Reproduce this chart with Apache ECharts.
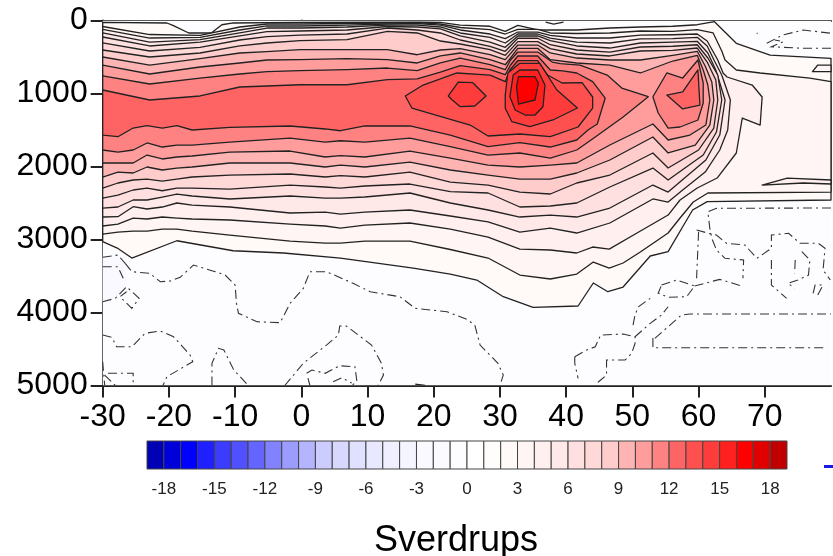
<!DOCTYPE html>
<html>
<head>
<meta charset="utf-8">
<style>html,body{margin:0;padding:0;background:#fff}#c{width:833px;height:556px}</style>
<script src="https://cdn.jsdelivr.net/npm/echarts@6/dist/echarts.min.js"></script>
</head>
<body>
<div id="c"></div>
<script>
// Axis ticks
const latTicks = [-30,-20,-10,0,10,20,30,40,50,60,70];
const depthTicks = [0,1000,2000,3000,4000,5000];
const colorbarTicks = [-18,-15,-12,-9,-6,-3,0,3,6,9,12,15,18];
const colorbarEdges = [-19,-18,-17,-16,-15,-14,-13,-12,-11,-10,-9,-8,-7,-6,-5,-4,-3,-2,-1,0,1,2,3,4,5,6,7,8,9,10,11,12,13,14,15,16,17,18,19];
const colorbarColors = ['#0000b4','#0000d8','#0000ff','#2020ff','#3c3cff','#5050ff','#6464ff','#8282ff','#9c9cff','#b4b4ff','#ccccff','#d8d8ff','#e0e0ff','#e8e8ff','#efefff','#f5f5ff','#f9f9ff','#fbfbff','#fdfdff','#ffffff','#fffcfc','#fff9f8','#fff5f4','#ffefef','#ffe8e8','#ffe0e0','#ffd8d8','#ffcccc','#ffb4b4','#ff9c9c','#ff8282','#ff6464','#ff5050','#ff3c3c','#ff2020','#ff0000','#e00000','#c00000'];
const levelColors = {2:'#fff9f8',3:'#fff5f4',4:'#ffefef',5:'#ffe8e8',6:'#ffe0e0',7:'#ffd8d8',8:'#ffcccc',9:'#ffb4b4',10:'#ff9c9c',11:'#ff8282',12:'#ff6464',13:'#ff5050',14:'#ff3c3c',15:'#ff2020',16:'#ff0000'};

// Contours: latitude columns shared by the upper and lower edges, depths in metres
const upperLats = [-30,-22.9,-15.3,-9.3,-5.2,-0.2,6.9,13,17.5,21,24,28.5,30.8,32.7,35.7,37.6,41.6,46.6,51.2,56.1,59.8];
const lowerLats = [-30,-27.7,-25.4,-23.3,-21,-18.8,-16.5,-10.8,-1.7,3.6,5.9,9.6,16.4,22.5,28.2,33,37.6,41.6,46.6,53.1,55.4];

const top3 = [82,192,203,89,48,48,41,34,30,48,96,126,185,121,121,171,178,171,144,148,126];
const top4 = [123,240,230,130,75,75,62,48,41,62,130,185,249,158,158,203,240,240,199,195,185];
const top5 = [171,295,263,171,103,103,89,62,62,89,171,230,308,185,185,240,295,308,253,249,230];
const top6 = [226,349,295,212,153,144,130,82,89,116,212,295,367,212,212,277,349,377,308,295,285];
const top7 = [308,418,367,267,222,199,185,103,130,171,267,353,422,243,243,332,404,432,363,353,332];
const top8 = [404,500,445,349,308,277,263,148,171,281,322,400,477,290,290,386,459,486,418,408,377];
const top9 = [500,610,523,445,427,400,400,400,469,404,384,469,537,336,336,445,514,541,541,477,422];
const top10 = [610,733,637,582,541,537,523,537,582,486,445,537,606,381,381,537,582,610,719,555,477];

const bottom3 = [2925,2898,2884,2884,2857,2857,2884,2939,3021,3049,3049,3021,3021,3137,3254,3487,3541,3473];
const bottom4 = [2815,2788,2706,2719,2692,2706,2719,2733,2788,2815,2843,2802,2774,2857,2966,3131,3144,3185];
const bottom5 = [2692,2688,2551,2582,2555,2500,2528,2555,2637,2624,2651,2624,2596,2678,2760,2898,2843,2911,2774,2445,2487];
const bottom6 = [2569,2555,2459,2459,2418,2377,2404,2445,2404,2432,2432,2418,2363,2500,2596,2692,2665,2692,2569,2254,2350];
const bottom7 = [2432,2391,2322,2295,2332,2295,2295,2309,2254,2281,2295,2267,2240,2345,2363,2555,2541,2500,2281,2021,2185];
const bottom8 = [2295,2226,2185,2172,2199,2172,2144,2117,2103,2144,2126,2144,2076,2213,2254,2350,2377,2226,2117,1815,2021];
const bottom9 = [2144,2076,2089,2007,2048,2021,2007,1952,1952,2007,1980,2007,1939,2048,2117,2172,2172,2089,1911,1596,1815];
const bottom10 = [1952,1952,1952,1843,1897,1870,1856,1802,1788,1870,1852,1870,1788,1884,1980,2007,1980,1952,1706,1418,1637];

const cap3 = [[62.2,171],[63.5,418],[64,541],[65.7,678],[69.3,719],[76.8,788],[80,838],[80,2350],[61.4,2363],[59.2,2486],[57.2,2706],[55.4,2911],[51.2,3172],[48.6,3322],[46.5,3391],[44.1,3309]];
const cap4 = [[61.3,281],[62.9,541],[63.7,719],[64.3,774],[68.1,884],[69.6,1048],[69.3,1432],[66.6,1336],[65.7,1815],[62.8,2158],[59.8,2295],[57.2,2459],[55.4,2665],[50.7,2911],[46.5,3131],[44,3103]];
const cap5 = [[61.3,349],[62.4,555],[63.5,747],[64.8,1089],[64.4,1500],[63.2,1774],[61,2076],[57.6,2322]];
const cap6 = [[61.4,445],[62.6,678],[64,1089],[63.2,1569],[61.1,1911]];
const cap7 = [[61.4,514],[62.9,747],[63.5,1089],[62.7,1528],[60.7,1843]];
const cap8 = [[61.3,569],[62.6,815],[62.9,1089],[62.3,1473],[60,1774]];
const cap9 = [[61,623],[62,843],[62.3,1089],[61.7,1432],[59.5,1706]];
const cap10 = [[60.7,678],[61.4,884],[61.7,1089],[61.1,1432],[58.7,1569]];

const contour2 = [[-30,27],[-20.3,34],[-19.4,66],[-17,171],[-13.6,171],[-12,58],[-10.3,34],[-0.2,27],[17.5,21],[21,27],[24,62],[28.5,79],[30.8,148],[32.7,66],[35.7,130],[37.6,130],[41.6,130],[46.6,103],[51.2,89],[56.1,79],[59.8,58],[62.4,16],[65.7,312],[70.8,473],[80,518],[80,2459],[61.3,2482],[59.1,2596],[57.6,2825],[55.4,3167],[52.7,3226],[48.6,3651],[46.3,3715],[44.1,3596],[41.8,3911],[35,3929],[30.5,3784],[26.5,3555],[22.5,3473],[16.9,3391],[5.9,3254],[-2.7,3185],[-10.3,3154],[-18.8,3017],[-25.6,3254],[-27.8,3117],[-30,3030]];
const contour3b = [[77.2,701],[78,610],[80,610],[80,701]];
const contour4b = [[80,2185],[73.4,2158],[69.6,2254],[75.8,2226],[80,2240]];
const contour11 = [[-30,760],[-22.9,870],[-15.3,788],[-9.3,733],[-5.2,701],[-0.2,688],[6.9,674],[13,651],[17.5,688],[21,582],[24,514],[28.5,606],[30.8,674],[31.6,541],[32.7,432],[35.7,432],[37.9,569],[39.1,590],[42.1,610],[46.2,747],[48.4,925],[52.4,1044],[48.6,1322],[44.4,1596],[41.6,1774],[37.6,1884],[33,1815],[28.2,1843],[22.5,1729],[16.4,1610],[9.6,1665],[5.9,1647],[3.6,1665],[-1.7,1610],[-10.8,1665],[-16.5,1706],[-18.8,1706],[-21,1733],[-23.3,1678],[-25.4,1774],[-27.7,1802],[-30,1774]];
const contour11b = [[53.1,1044],[55.2,719],[57.6,788],[59.9,541],[60.7,856],[60.7,1130],[59.9,1363],[57.2,1459],[55.4,1473],[53.9,1267]];
const contour12 = [[-30,952],[-22.9,1089],[-15.3,1034],[-9.3,911],[-5.2,897],[-0.2,880],[6.9,880],[13,811],[17.5,801],[21,706],[24,617],[28.5,674],[30.8,743],[31.6,610],[32.7,486],[35.7,486],[37.6,678],[39.5,690],[41.6,719],[44,838],[45.9,1062],[44.7,1418],[43.3,1500],[41.6,1637],[37.6,1733],[33,1674],[28.2,1729],[22.5,1569],[16.4,1445],[9.6,1445],[5.9,1510],[3.6,1486],[-1.7,1445],[-10.8,1463],[-16.5,1500],[-18.8,1441],[-21,1473],[-23.3,1441],[-25.4,1473],[-27.7,1592],[-30,1569]];
const contour12b = [[55.2,1021],[57.6,979],[59.9,678],[60.2,1158],[57.6,1212]];
const contour13 = [[15.7,1034],[18.4,884],[23.5,719],[28.5,747],[30.8,838],[31.5,678],[32.7,551],[35.7,551],[37.2,747],[39.4,856],[42.4,852],[44,1048],[44,1199],[41.8,1459],[37.6,1592],[33,1555],[28.2,1582],[25.5,1432],[16.7,1199]];
const contour14 = [[30.8,1203],[30.8,1021],[31.2,719],[33,586],[36,586],[38.6,952],[41.7,1199],[38,1363],[34.5,1455],[31.8,1386]];
const contour14b = [[22.2,1034],[23.7,843],[25.9,852],[27.9,1034],[26.2,1171],[24,1181],[22.8,1089]];
const contour15 = [[33,678],[35.7,678],[36.8,884],[36.5,1181],[35.3,1295],[33.8,1295],[32.3,1226],[31.5,1044],[32,747]];
const contour16 = [[32.8,770],[35.3,770],[35.8,860],[35.3,1089],[32.8,1144],[32.5,907]];

// Negative (dashed) contours
const dashed = [
 [[-26.6,3326],[-25.6,3441],[-22.9,3463],[-21.3,3578],[-19.8,3569],[-18.3,3518],[-16.3,3350],[-13,3441],[-11.5,3487],[-10,3624],[-9.8,3870],[-9.5,4011],[-6.7,4127],[-3.2,4140],[-1.7,3874],[0.3,3669],[1.3,3441],[3.8,3441],[7.8,3600],[10.4,3715],[14.9,3784],[17.2,3943],[22,3989],[25,4094],[26.2,4171],[27,4446],[29.7,4696],[30.5,4857],[30,5000]],
 [[-30,3852],[-28.1,3806],[-26.4,3647],[-24.5,3806],[-25.6,3943],[-27.4,3784],[-26.4,3715]],
 [[-30,3244],[-27.7,3213],[-26.6,3326]],
 [[-30,3373],[-27.7,3373],[-26.9,3532]],
 [[-30,4309],[-28.6,4340],[-27.9,4469],[-25.6,4469],[-23.6,4285],[-21.3,4254],[-19.3,4332],[-16.8,4583],[-16.4,4674],[-20.3,4880],[-20.9,5000]],
 [[-13.5,5000],[-13.5,4696],[-12.5,4491],[-11.7,4514],[-10.2,4788],[-8,5000]],
 [[-2.5,5000],[0.3,4696],[3.8,4446],[5.6,4309],[5.8,4185],[6.8,4185],[10.6,4446],[12.1,4696],[12.4,4857],[11.6,5000]],
 [[0.8,4833],[1.6,4788],[3.6,4833],[5.8,4729],[8.1,4743],[8.4,4948],[7.6,5000]],
 [[1,4898],[1.3,5000]],
 [[4.8,4948],[6.1,4894],[7.6,4966]],
 [[-30,4674],[-29.7,5000]],
 [[-29.2,4833],[-25.4,4833],[-25.4,5000]],
 [[-29.7,4857],[-28.1,5000]],
 [[41.3,4606],[43.1,4514],[44.4,4469],[45.2,4309],[48.6,4295],[50.4,4332],[50.4,4422],[49.9,4559],[48.9,4651],[46.1,4651],[46.1,4857],[44.9,4948],[44.4,5000]],
 [[41.3,4606],[41.3,4696],[41.8,4902]],
 [[50.4,4332],[52.7,4148],[54.4,4035],[55.4,3921]],
 [[50.1,4172],[50.4,4035],[50.9,3921],[52.7,3806]],
 [[54.4,3624],[56.7,3555],[59.4,3637],[58.2,3784],[55.4,3792],[53.9,3737],[54.4,3624]],
 [[59.4,3637],[63.2,3546],[66.5,3637]],
 [[53.4,4354],[57.4,4035],[58.7,4021],[80,4021]],
 [[53.1,4350],[53.1,4483],[79.2,4483]],
 [[80,2568],[62.7,2573],[61.4,2619],[61.7,2847],[62,2984],[62.7,3144],[64,3258],[66.8,3281],[66.7,3532]],
 [[59.7,2870],[61.5,2915],[62.7,2939],[64.2,3052],[67,3076],[68.8,3258],[71,3121],[71,2939],[73.6,2915],[75.3,3052],[78.1,3052],[79.1,3121],[78.8,3418],[79.9,3555]],
 [[60,2893],[59.7,3532]],
 [[71,3281],[71,3624],[73.3,3806]],
 [[75.6,3167],[76.8,3281],[76.6,3487],[75,3555],[73.5,3600],[74.5,3669]],
 [[74.6,3281],[74.5,3463]],
 [[77.3,3737],[77.6,3624],[78.8,3624],[78,3761]],
 [[70.3,312],[72.7,199],[75.8,130],[80,175]],
 [[80,381],[75.8,381],[71,359],[72.8,290],[71.5,267]],
 [[68.8,171],[68.9,180]]
];
const shortSolid = [[[17.2,4980],[18.7,5000]],[[36.9,21],[38.1,50],[39.6,21]]];
const plotBounds = [[-30,0],[80,0],[80,5000],[-30,5000]];
const coldPatch = [[-30,3244],[-27.7,3213],[-26.6,3326],[-26.4,3647],[-28.1,3806],[-30,3852]];

function band(level, top, cap, bottom) {
  const pts = top.map((d, i) => [upperLats[i], d]).concat(cap);
  const low = bottom.map((d, i) => [lowerLats[i], d]).reverse();
  return {level, pts: pts.concat(low)};
}
const filled = [
  {fill:'#fdfdff', stroke:'none', pts:plotBounds},
  {fill:'#f9f9ff', stroke:'none', pts:coldPatch},
  {level:2, pts:contour2},
  band(3, top3, cap3, bottom3),
  {level:3, pts:contour3b},
  band(4, top4, cap4, bottom4),
  {level:4, pts:contour4b},
  band(5, top5, cap5, bottom5),
  band(6, top6, cap6, bottom6),
  band(7, top7, cap7, bottom7),
  band(8, top8, cap8, bottom8),
  band(9, top9, cap9, bottom9),
  band(10, top10, cap10, bottom10),
  {level:11, pts:contour11},
  {level:11, pts:contour11b},
  {level:12, pts:contour12},
  {level:12, pts:contour12b},
  {level:13, pts:contour13},
  {level:14, pts:contour14},
  {level:14, pts:contour14b},
  {level:15, pts:contour15},
  {level:16, pts:contour16}
];

const LINE = '#222';
const FONT = '"Liberation Sans", Arial, sans-serif';
const frame = {show:true, lineStyle:{color:'#222', width:2}};

const chart = echarts.init(document.getElementById('c'), null, {renderer:'canvas'});
chart.setOption({
  animation:false,
  backgroundColor:'#fff',
  title:{text:'Sverdrups', left:369, top:518, textStyle:{fontFamily:FONT, fontWeight:'normal', fontSize:36, color:'#000'}},
  graphic:[{type:'rect', shape:{x:824, y:465, width:9, height:3}, style:{fill:'#1a1ae6'}}],
  grid:[
    {left:102.7, top:20.5, width:728.3, height:365},
    {left:147, top:441, width:640, height:28}
  ],
  xAxis:[
    {type:'value', gridIndex:0, min:-30, max:80, interval:10, splitLine:{show:false}, axisLine:Object.assign({onZero:false},frame),
     axisTick:{length:12, lineStyle:{color:'#222', width:2}, customValues:latTicks}, axisLabel:{margin:16, fontFamily:FONT, fontSize:32, color:'#000', customValues:latTicks, formatter:v=>String(v)}},
    {type:'value', gridIndex:0, position:'top', min:-30, max:80, interval:10, splitLine:{show:false}, axisLine:frame, axisTick:{show:false}, axisLabel:{show:false}},
    {type:'value', gridIndex:1, min:-19, max:19, splitLine:{show:false}, axisLine:{show:false}, axisTick:{show:false},
     axisLabel:{margin:12, fontFamily:FONT, fontSize:17, color:'#222', customValues:colorbarTicks, formatter:v=>String(v)}}
  ],
  yAxis:[
    {type:'value', gridIndex:0, inverse:true, min:0, max:5000, interval:1000, splitLine:{show:false}, axisLine:Object.assign({onZero:false},frame),
     axisTick:{length:12, lineStyle:{color:'#222', width:2}}, axisLabel:{margin:15, fontFamily:FONT, fontSize:32, color:'#000', customValues:depthTicks, formatter:v=>String(v)}},
    {type:'value', gridIndex:0, position:'right', inverse:true, min:0, max:5000, interval:1000, splitLine:{show:false}, axisLine:frame, axisTick:{show:false}, axisLabel:{show:false}},
    {type:'value', gridIndex:1, min:0, max:1, show:false}
  ],
  series:[
    {type:'custom', xAxisIndex:0, yAxisIndex:0, clip:true, silent:true, z:2,
     data:filled.map((f,i)=>[i]),
     renderItem:(p,api)=>{
       const f = filled[p.dataIndex];
       return {type:'polygon', shape:{points:f.pts.map(q=>api.coord(q))},
         style:{fill:f.fill||levelColors[f.level], stroke:f.stroke==='none'?null:LINE, lineWidth:1.3, lineJoin:'round'}};
     }},
    {type:'custom', xAxisIndex:0, yAxisIndex:0, clip:true, silent:true, z:3,
     data:dashed.map((f,i)=>[i]),
     renderItem:(p,api)=>({type:'polyline', shape:{points:dashed[p.dataIndex].map(q=>api.coord(q))},
         style:{fill:null, stroke:'#333', lineWidth:1.1, lineDash:[9,4,2,4]}})},
    {type:'custom', xAxisIndex:0, yAxisIndex:0, clip:true, silent:true, z:3,
     data:shortSolid.map((f,i)=>[i]),
     renderItem:(p,api)=>({type:'polyline', shape:{points:shortSolid[p.dataIndex].map(q=>api.coord(q))},
         style:{fill:null, stroke:LINE, lineWidth:1.3}})},
    {type:'custom', xAxisIndex:2, yAxisIndex:2, silent:true, z:2,
     data:colorbarColors.map((c,i)=>[colorbarEdges[i], colorbarEdges[i+1]]),
     renderItem:(p,api)=>{
       const a = api.coord([api.value(0),1]), b = api.coord([api.value(1),0]);
       return {type:'rect', shape:{x:a[0], y:a[1], width:b[0]-a[0], height:b[1]-a[1]},
         style:{fill:colorbarColors[p.dataIndex], stroke:'#444', lineWidth:1}};
     }}
  ]
});
</script>
</body>
</html>
